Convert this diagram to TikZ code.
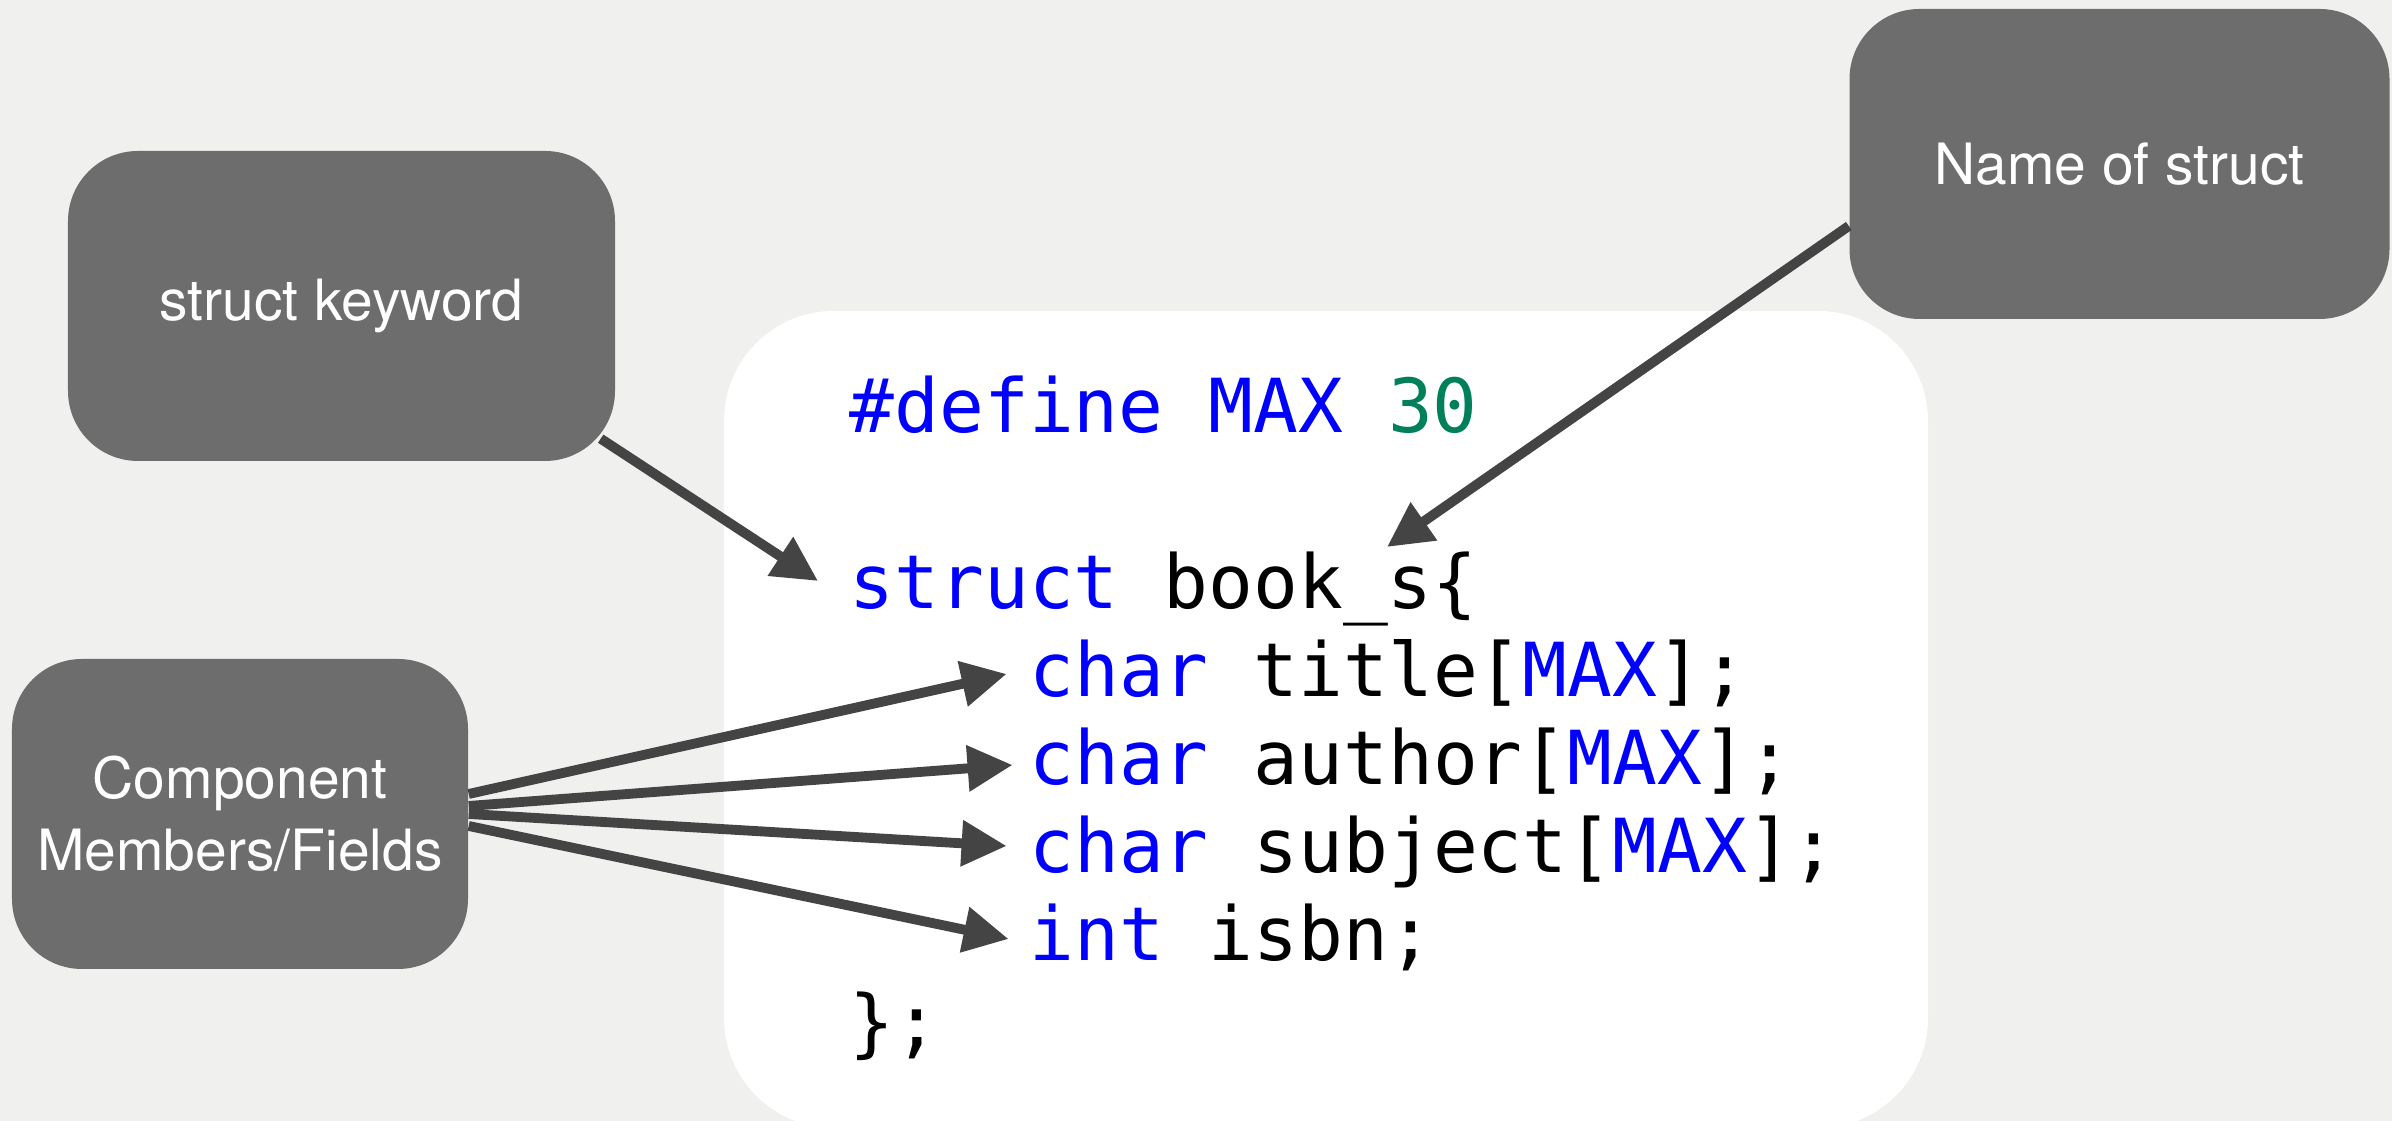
\documentclass[tikz,border=0pt]{standalone}
\usepackage{fontspec}
\setmainfont{TeX Gyre Heros}
\setmonofont{DejaVu Sans Mono}
\usetikzlibrary{positioning,arrows.meta}

\definecolor{paper}{RGB}{240,240,238}
\definecolor{boxgray}{RGB}{109,109,109}
\definecolor{linegray}{RGB}{68,68,68}
\definecolor{kwblue}{RGB}{0,0,255}
\definecolor{numgreen}{RGB}{0,128,90}

\newcommand{\ckw}[1]{\textcolor{kwblue}{#1}}
\newcommand{\cnum}[1]{\textcolor{numgreen}{#1}}

\tikzset{
		tagbox/.style={
			rectangle,
			rounded corners=7mm,
			fill=boxgray,
			text=white,
			align=center,
			minimum height=3.1cm,
			font=\fontsize{16.2}{20.5}\selectfont},
		codeline/.style={anchor=base west, inner sep=0pt,
			font=\ttfamily\fontsize{21.2}{25}\selectfont},
		pointer/.style={draw=linegray, line width=2.8pt,
			-{Triangle[length=4.5mm,width=4.4mm]}},
	}

\begin{document}
\begin{tikzpicture}
			\fill[paper] (0,0) rectangle (23.92,11.21);
			\useasboundingbox (0,0) rectangle (23.92,11.21);
			
			% white panel behind the code
			\node[fill=white, rounded corners=1.1cm, inner sep=0pt,
			minimum width=12.04cm, minimum height=8.17cm] (code) at (13.26,4.015) {};
			
			\node[tagbox, minimum width=5.47cm] (keyword) at (3.415,8.15) {struct keyword};
			\node[tagbox, minimum width=5.40cm] (name) at (21.195,9.57) {Name of struct};
			\node[tagbox, minimum width=4.56cm] (members) at (2.40,3.07) {Component\\Members/Fields};
			
			% code lines, one node per line
			\node[codeline] (define) at (8.49,6.88) {\ckw{\#define MAX} \cnum{30}};
			\node[codeline] (struct) at (8.49,5.12) {\ckw{struct} book\_s\{};
			\node[codeline] (title) at (10.286,4.24) {\ckw{char} title[\ckw{MAX}];};
			\node[codeline] (author) at (10.286,3.36) {\ckw{char} author[\ckw{MAX}];};
			\node[codeline] (subject) at (10.286,2.48) {\ckw{char} subject[\ckw{MAX}];};
			\node[codeline] (isbn) at (10.286,1.60) {\ckw{int} isbn;};
			\node[codeline] (close) at (8.49,0.72) {\};};
			
			\draw[pointer] ([shift={(-0.15,0.23)}]keyword.south east) -- ([shift={(-0.31,0.28)}]struct.base west);
			\draw[pointer] ([yshift=-6.2mm]name.west) -- ([shift={(5.38,0.62)}]struct.base west);
			
			\draw[pointer] ([yshift=2mm]members.east) -- ([shift={(-0.22,0.23)}]title.base west);
			\draw[pointer] ([yshift=0.8mm]members.east) -- ([shift={(-0.16,0.20)}]author.base west);
			\draw[pointer] (members.east) -- ([shift={(-0.22,0.27)}]subject.base west);
			\draw[pointer] ([yshift=-1.2mm]members.east) -- ([shift={(-0.20,0.22)}]isbn.base west);
\end{tikzpicture}
\end{document}
